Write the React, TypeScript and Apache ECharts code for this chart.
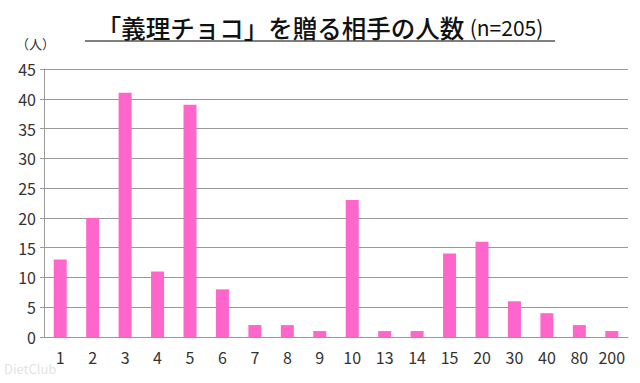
import React, { useEffect, useRef } from "react";
import * as echarts from "echarts";

const categories = ["1", "2", "3", "4", "5", "6", "7", "8", "9", "10", "13", "14", "15", "20", "30", "40", "80", "200"];
const counts = [13, 20, 41, 11, 39, 8, 2, 2, 1, 23, 1, 1, 14, 16, 6, 4, 2, 1];
const titleMain = "「義理チョコ」を贈る相手の人数";
const titleSub = "(n=205)";
const unitLabel = "（人）";

const FONT = "'Noto Sans CJK JP', 'Noto Sans', sans-serif";

export default function App() {
  const ref = useRef<HTMLDivElement>(null);
  useEffect(() => {
    if (!ref.current) return;
    const chart = echarts.init(ref.current, null, { renderer: "svg" });
    chart.setOption({
      animation: false,
      backgroundColor: "#ffffff",
      title: {
        text: titleMain + " {s|" + titleSub + "}",
        left: "center",
        top: 10,
        textStyle: {
          fontFamily: FONT,
          fontSize: 24.5,
          fontWeight: 500,
          color: "#111",
          rich: { s: { fontSize: 21, fontFamily: FONT, color: "#111", fontWeight: "normal" } },
        },
      },
      graphic: [
        { type: "line", shape: { x1: 85, y1: 41, x2: 555, y2: 41 }, style: { stroke: "#555", lineWidth: 1.5 } },
        { type: "text", left: 16, top: 37, style: { text: unitLabel, fontSize: 13, fontFamily: FONT, fill: "#333" } },
        { type: "text", left: 4, top: 362, style: { text: "DietClub", fontSize: 13, fontFamily: FONT, fill: "rgba(190,190,190,0.45)" } },
      ],
      grid: { left: 44, right: 12, top: 69, bottom: 46, containLabel: false },
      xAxis: {
        type: "category",
        data: categories,
        axisLine: { show: true, lineStyle: { color: "#999" } },
        axisTick: { show: false },
        axisLabel: { fontSize: 16, color: "#333", fontFamily: FONT, margin: 12, interval: 0 },
      },
      yAxis: {
        type: "value",
        min: 0,
        max: 45,
        interval: 5,
        axisLine: { show: true, lineStyle: { color: "#999" } },
        axisTick: { show: true, length: 4, lineStyle: { color: "#999" } },
        axisLabel: { fontSize: 16, color: "#333", fontFamily: FONT, margin: 8 },
        splitLine: { show: true, lineStyle: { color: "#999" } },
      },
      series: [
        {
          type: "bar",
          data: counts,
          barWidth: 13,
          itemStyle: { color: "#FF66CC" },
        },
      ],
    });
    return () => chart.dispose();
  }, []);
  return <div ref={ref} style={{ position: "fixed", left: 0, top: 0, width: 640, height: 383 }} />;
}
